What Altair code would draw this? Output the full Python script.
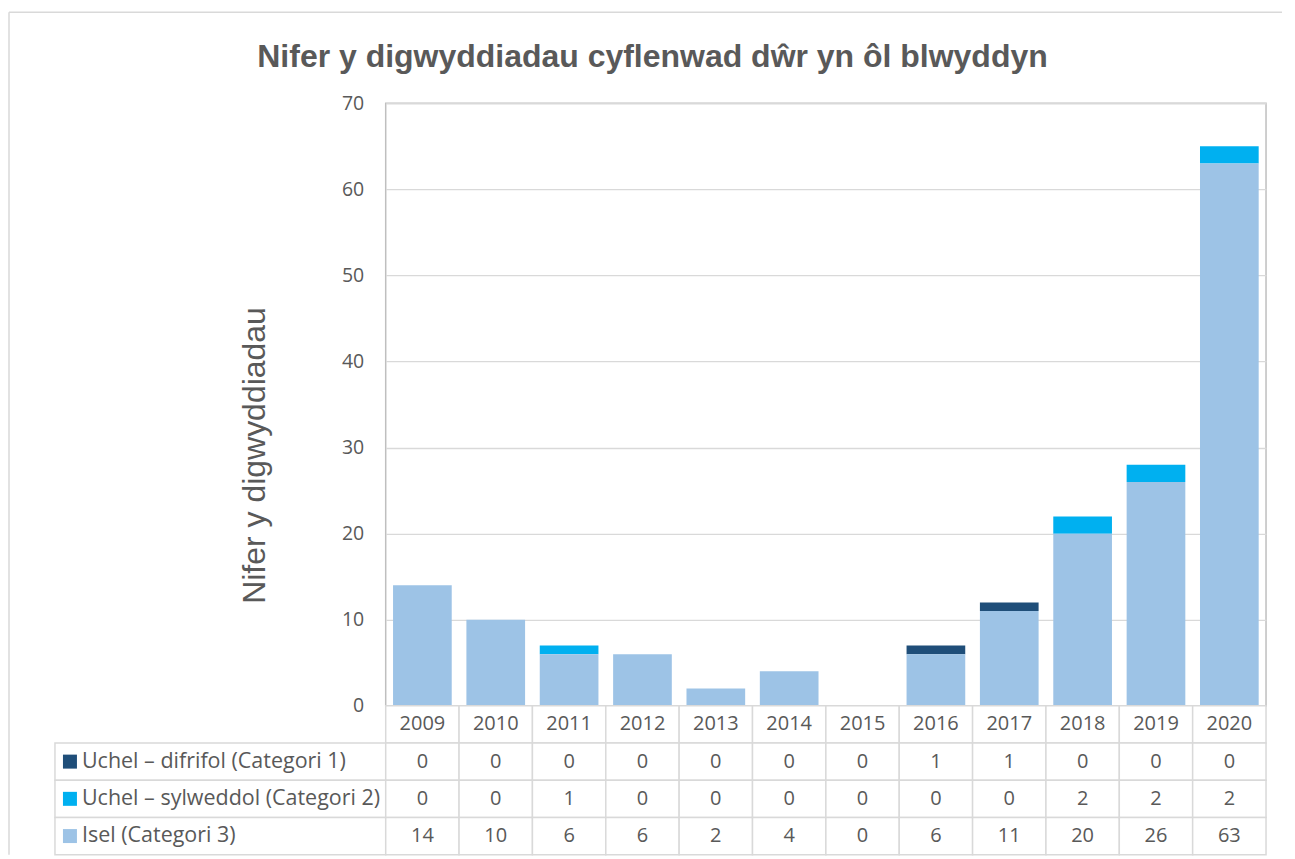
import altair as alt
import pandas as pd

# ---- data ----
years = [str(y) for y in range(2009, 2021)]
series = ["Uchel – difrifol (Categori 1)", "Uchel – sylweddol (Categori 2)", "Isel (Categori 3)"]
cat1 = [0, 0, 0, 0, 0, 0, 0, 1, 1, 0, 0, 0]
cat2 = [0, 0, 1, 0, 0, 0, 0, 0, 0, 2, 2, 2]
cat3 = [14, 10, 6, 6, 2, 4, 0, 6, 11, 20, 26, 63]
colors = ["#1F4E79", "#00B0F0", "#9DC3E6"]
y_ticks = [0, 10, 20, 30, 40, 50, 60, 70]
title_text = "Nifer y digwyddiadau cyflenwad dŵr yn ôl blwyddyn"
y_title = "Nifer y digwyddiadau"
row_keys = ["year", "c1", "c2", "c3"]
stack_rank = {series[2]: 0, series[1]: 1, series[0]: 2}

TXT = "#595959"
GRID = "#d9d9d9"
TFONT = "Open Sans"

# ---- tables built from the arrays ----
long_rows = []
for i, yr in enumerate(years):
    for s, vals in zip(series, [cat1, cat2, cat3]):
        long_rows.append({"year": yr, "series": s, "value": vals[i], "rank": stack_rank[s]})
df = pd.DataFrame(long_rows)
df_bars = df[df["value"] > 0]

table_rows = []
for i, yr in enumerate(years):
    table_rows.append({"year": yr, "row": "year", "label": yr})
    for key, vals in zip(["c1", "c2", "c3"], [cat1, cat2, cat3]):
        table_rows.append({"year": yr, "row": key, "label": str(vals[i])})
tdf = pd.DataFrame(table_rows)

hdf = pd.DataFrame({"row": ["c1", "c2", "c3"], "name": series})

row_scale = alt.Scale(domain=row_keys, paddingInner=0, paddingOuter=0)
col_scale = alt.Scale(domain=years, paddingInner=0, paddingOuter=0)

PLOT_W, PLOT_H = 881, 603
HEAD_W, TABLE_H = 331, 149

# ---- bar chart ----
bars = alt.Chart(df_bars).mark_bar().encode(
    x=alt.X("year:N", sort=years,
            scale=alt.Scale(domain=years, paddingInner=0.2, paddingOuter=0.1), axis=None),
    y=alt.Y("value:Q", stack="zero",
            scale=alt.Scale(domain=[0, 70], nice=False),
            axis=alt.Axis(values=y_ticks, title=y_title, grid=True, gridColor=GRID,
                          gridWidth=1.3, ticks=False, domain=False, labelPadding=22,
                          labelFontSize=19.5, labelColor=TXT, labelFont=TFONT,
                          titleFont="Liberation Sans", titleFontSize=32,
                          titleFontWeight="normal", titleColor=TXT,
                          titleAngle=270, titleAlign="center", titleBaseline="middle",
                          titleX=-131, titleY=352)),
    color=alt.Color("series:N", scale=alt.Scale(domain=series, range=colors), legend=None),
    order=alt.Order("rank:Q"),
).properties(width=PLOT_W, height=PLOT_H,
             view=alt.ViewBackground(stroke="#bfbfbf", strokeWidth=1.5))

# ---- data table ----
grid_rect = alt.Chart(tdf).mark_rect(fill="white", stroke=GRID, strokeWidth=1.5).encode(
    x=alt.X("year:N", sort=years, scale=col_scale, axis=None),
    y=alt.Y("row:N", scale=row_scale, axis=None),
)
grid_text = alt.Chart(tdf).mark_text(font=TFONT, fontSize=20, color=TXT).encode(
    x=alt.X("year:N", sort=years, scale=col_scale, axis=None),
    y=alt.Y("row:N", scale=row_scale, axis=None),
    text="label:N",
)
grid = (grid_rect + grid_text).properties(width=PLOT_W, height=TABLE_H)

h_rect = alt.Chart(hdf).mark_rect(fill="white", stroke=GRID, strokeWidth=1.5).encode(
    y=alt.Y("row:N", scale=row_scale, axis=None),
)
h_sq = alt.Chart(hdf).mark_square(size=196, opacity=1).encode(
    x=alt.value(15),
    y=alt.Y("row:N", scale=row_scale, axis=None),
    color=alt.Color("name:N", scale=alt.Scale(domain=series, range=colors), legend=None),
)
h_text = alt.Chart(hdf).mark_text(align="left", font=TFONT, fontSize=21.5, color=TXT).encode(
    x=alt.value(27),
    y=alt.Y("row:N", scale=row_scale, axis=None),
    text="name:N",
)
header = (h_rect + h_sq + h_text).properties(width=HEAD_W, height=TABLE_H)

# spacer column, carrying the light chart-area frame (left and top edges)
frame_left = alt.Chart(pd.DataFrame({"a": [0]})).mark_rule(color=GRID, strokeWidth=1.5).encode(
    x=alt.value(-46), y=alt.value(-91), y2=alt.value(PLOT_H + TABLE_H)
)
frame_top = alt.Chart(pd.DataFrame({"a": [0]})).mark_rule(color=GRID, strokeWidth=1.5).encode(
    x=alt.value(-46), x2=alt.value(1228), y=alt.value(-91)
)
spacer = (frame_left + frame_top).properties(width=HEAD_W, height=PLOT_H)

chart = alt.concat(
    spacer, bars, header, grid, columns=2, spacing=0, bounds="flush"
).properties(
    title=alt.TitleParams(title_text, font="Liberation Sans", fontSize=32, fontWeight="bold",
                          color=TXT, anchor="middle", offset=-62, dx=7),
    padding={"left": 0, "top": 3, "right": 4, "bottom": 0},
).configure_view(stroke=None)

chart.save("out.html", embed_options={"renderer": "svg", "actions": False})
